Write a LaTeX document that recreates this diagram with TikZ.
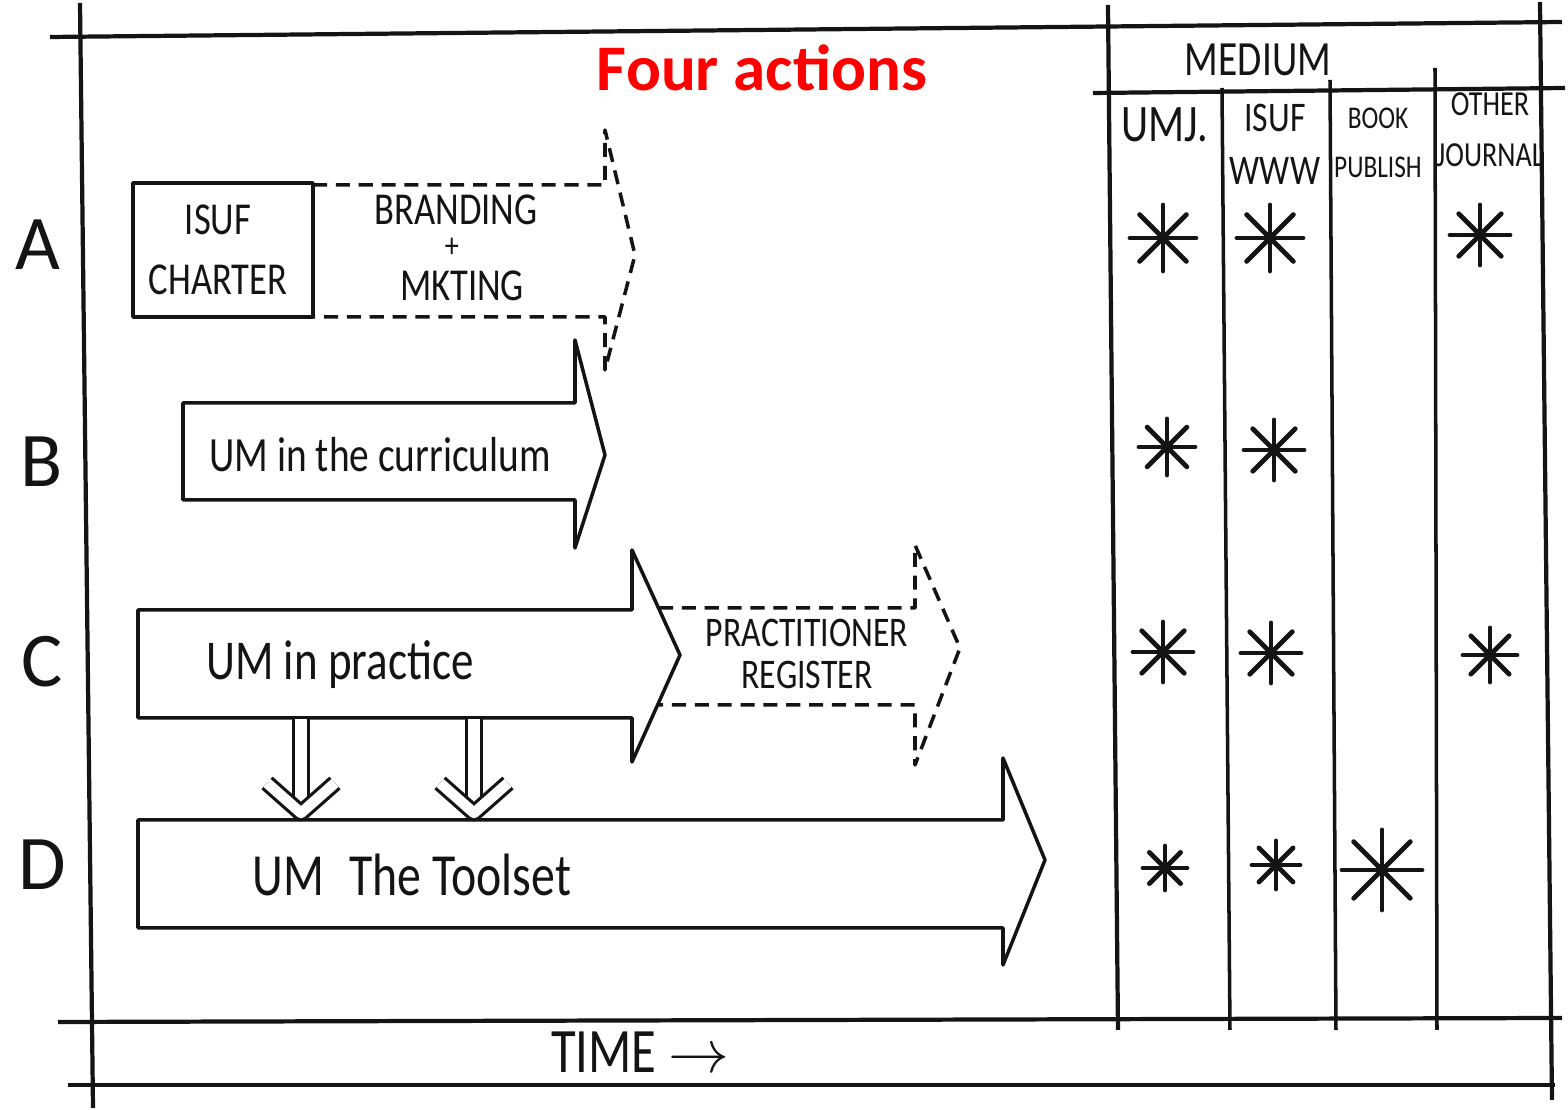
\documentclass[tikz,border=0pt]{standalone}
\usepackage{fontspec}
\setmainfont{Carlito}
\newfontfamily\hand[FakeStretch=0.8]{Carlito}
\usepackage{tikz}
\usetikzlibrary{arrows.meta,calc}
\definecolor{Title_red}{RGB}{255, 0, 0}
\definecolor{Ink}{RGB}{20, 20, 20}
\newcommand{\handsize}[1]{\hand\fontsize{#1}{#1}\selectfont}
\tikzset{
    sketch/.style={draw=Ink, line width=1pt, line join=round},
    dashsketch/.style={sketch, dash pattern=on 4pt off 2.5pt},
    frameline/.style={draw=Ink, line width=1.2pt},
    medmark/.style={draw=Ink, line width=1.4pt, line cap=round},
    rowlabel/.style={text=Ink, font=\fontsize{22}{22}\selectfont},
    label/.style={text=Ink, align=center, inner sep=0pt},
    downarrow/.style={draw=Ink, line width=0.9pt, double, double distance=3.5pt},
    barb/.style={draw=Ink, line width=0.9pt, double, double distance=3pt, line join=round}
}

\begin{document}
\begin{tikzpicture}[x=0.01cm, y=-0.01cm]
    \useasboundingbox (0,0) rectangle (1568,1110);

    %% Background frame
    \draw[frameline] (50,37) -- (1562,22);
    \draw[frameline] (80,3) -- (93,1108);
    \draw[frameline] (1540,2) -- (1552,1100);
    \draw[frameline] (58,1022) -- (1562,1018);
    \draw[frameline] (68,1085) -- (1555,1085);
    % medium table
    \draw[frameline] (1108,5) -- (1118,1030);
    \draw[frameline] (1093,93) -- (1565,88);
    \draw[sketch] (1222,88) -- (1230,1030);
    \draw[sketch] (1330,80) -- (1336,1030);
    \draw[sketch] (1435,68) -- (1437,1030);

    \node[font=\bfseries\fontsize{18.5}{18.5}\selectfont, text=Title_red] (title) at (762,68) {Four actions};
    \node[label, font=\handsize{14}] (medium) at (1258,60) {MEDIUM};
    \node[label, font=\handsize{15}] (col_umj) at (1165,125) {UMJ.};
    \node[label, font=\handsize{12}] (col_isuf) at (1275,144) {ISUF\\[3pt]WWW};
    \node[label, font=\handsize{9}] (col_book) at (1378,143) {BOOK\\[5pt]PUBLISH};
    \node[label, font=\handsize{10}] (col_other) at (1490,130) {OTHER\\[4.5pt]JOURNAL};

    %% Rows
    \node[rowlabel] (row_a) at (38,245) {A};
    \node[rowlabel] (row_b) at (42,462) {B};
    \node[rowlabel] (row_c) at (42,662) {C};
    \node[rowlabel] (row_d) at (42,865) {D};

    % A: charter box + dashed arrow
    \draw[sketch] (133,183) rectangle (313,317);
    \draw[dashsketch] (313,185) -- (605,185) -- (605,130) -- (635,255) -- (605,370) -- (605,317) -- (313,317);
    \node[label, font=\handsize{13}] (charter) at (218,250) {ISUF\\[4pt]CHARTER};
    \node[label, font=\handsize{13}] (branding) at (456,210) {BRANDING};
    \node[label, font=\handsize{10}] (plus) at (452,248) {+};
    \node[label, font=\handsize{13}] (mkting) at (462,286) {MKTING};

    % B: curriculum
    \draw[sketch] (183,403) -- (575,403) -- (575,340) -- (605,455) -- (575,548) -- (575,500) -- (183,500) -- cycle;
    \node[label, font=\handsize{14}] (curriculum) at (380,455) {UM in the curriculum};

    % C: practice + register
    \draw[sketch] (138,610) -- (632,610) -- (632,550) -- (680,655) -- (632,762) -- (632,718) -- (138,718) -- cycle;
    \node[label, font=\handsize{16}] (practice) at (340,665) {UM in practice};
    \draw[dashsketch] (659,608) -- (915,608) -- (915,545) -- (960,648) -- (915,765) -- (915,705) -- (658,705);
    \node[label, font=\handsize{12}] (register) at (807,654) {PRACTITIONER\\REGISTER};

    % D: toolset
    \draw[sketch] (138,820) -- (1003,820) -- (1003,758) -- (1045,860) -- (1003,965) -- (1003,928) -- (138,928) -- cycle;
    \node[label, font=\handsize{17}] (toolset) at (412,875) {UM\hspace{0.25cm}The Toolset};

    % C feeds D
    \coordinate (c_out1) at (301,719);
    \coordinate (d_in1) at (301,813);
    \coordinate (c_out2) at (474,719);
    \coordinate (d_in2) at (474,813);
    \foreach \n in {1,2}
    {
        \draw[downarrow] (c_out\n) -- ($(d_in\n)+(0,-6)$);
        \draw[barb] ($(d_in\n)+(-34,-30)$) -- (d_in\n) -- ($(d_in\n)+(34,-30)$);
    }

    %% Medium marks
    \foreach \x/\y/\r in {1163/238/33, 1270/238/33, 1480/235/30,
                          1167/447/28, 1274/450/30,
                          1163/652/30, 1271/653/30, 1490/655/27,
                          1165/868/22, 1276/865/24, 1382/870/40}
    {
        \foreach \a in {0,45,90,135}
            \draw[medmark] ($(\x,\y)+(\a:\r)$) -- ($(\x,\y)-(\a:\r)$);
    }

    \node[label, font=\handsize{18}] (time) at (640,1052) {TIME $\rightarrow$};

\end{tikzpicture}
\end{document}
